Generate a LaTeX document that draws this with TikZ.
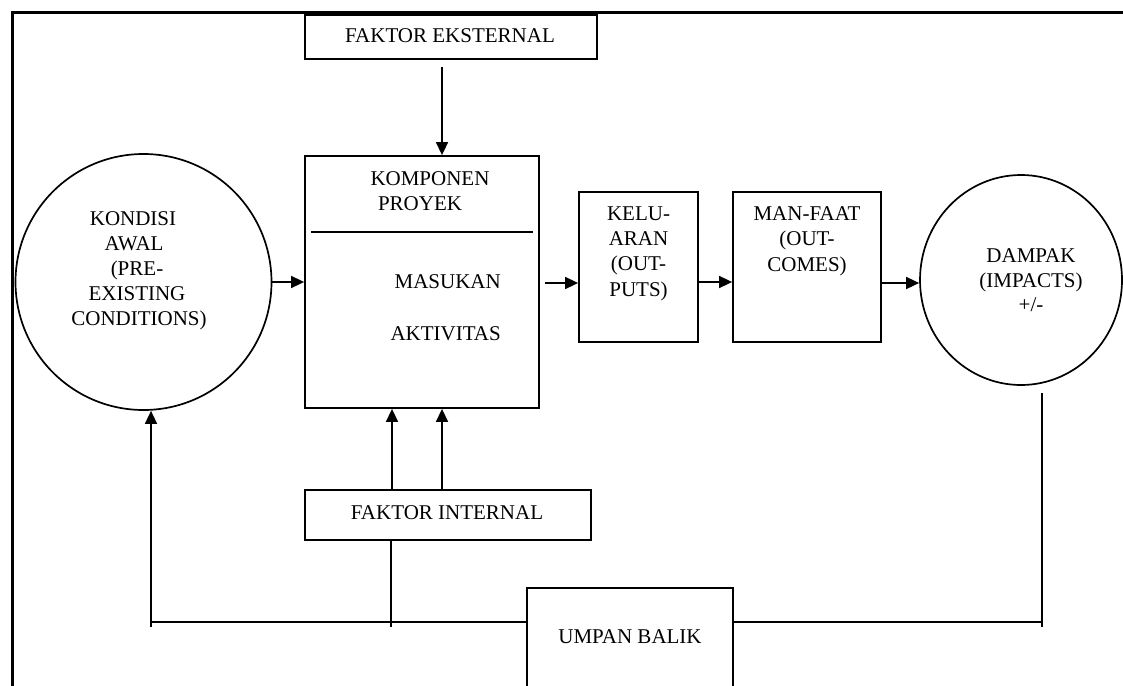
\documentclass[tikz,border=0pt]{standalone}
\usepackage{fontspec}
\setmainfont{Liberation Serif}
\usetikzlibrary{arrows.meta,shapes.geometric,calc}
\begin{document}
\begin{tikzpicture}[x=1pt,y=-1pt,
  box/.style={draw,line width=1.8pt,rectangle,inner sep=0pt},
  rnd/.style={draw,line width=1.7pt,inner sep=0pt},
  txt/.style={anchor=base,inner sep=0pt,font=\fontsize{21}{25}\selectfont},
  arr/.style={line width=1.6pt,-{Triangle[length=13pt,width=12pt]}},
  ln/.style={line width=1.6pt},
  fb/.style={line width=2.6pt}]
\useasboundingbox (0,0) rectangle (1123,685);
% frame
\draw[line width=3.8pt] (12.5,700) -- (12.5,12.5) -- (1140,12.5);
% shapes
\node[box,minimum width=292pt,minimum height=44pt] (ext) at (451,37) {};
\node[box,minimum width=234pt,minimum height=252pt] (komp) at (422,282) {};
\node[box,minimum width=119pt,minimum height=150pt] (kel) at (638.5,267) {};
\node[box,minimum width=148pt,minimum height=150pt] (man) at (807,267) {};
\node[rnd,circle,minimum size=256pt] (kon) at (143.5,282) {};
\node[rnd,ellipse,minimum width=202pt,minimum height=210pt] (dam) at (1021,280) {};
\node[box,minimum width=286pt,minimum height=50pt] (int) at (448,515) {};
\node[box,minimum width=206pt,minimum height=130pt] (ump) at (630,653) {};
% divider inside komponen
\draw[ln] (311,232) -- (533,232);
% texts
\node[txt] (t-ext) at (450,42) {FAKTOR EKSTERNAL};
\node[txt] (t-k1) at (430,185) {KOMPONEN};
\node[txt] (t-k2) at (420,210) {PROYEK};
\node[txt,anchor=base east] (t-k3) at (501,288) {MASUKAN};
\node[txt,anchor=base east] (t-k4) at (501,340) {AKTIVITAS};
\node[txt] (t-c1) at (133,225) {KONDISI};
\node[txt] (t-c2) at (134,250) {AWAL};
\node[txt] (t-c3) at (137,275) {(PRE-};
\node[txt] (t-c4) at (137,300) {EXISTING};
\node[txt] (t-c5) at (139,325) {CONDITIONS)};
\node[txt] (t-o1) at (638.5,220) {KELU-};
\node[txt] (t-o2) at (638.5,245) {ARAN};
\node[txt] (t-o3) at (638.5,270) {(OUT-};
\node[txt] (t-o4) at (638.5,296) {PUTS)};
\node[txt] (t-m1) at (807,220) {MAN-FAAT};
\node[txt] (t-m2) at (807,245) {(OUT-};
\node[txt] (t-m3) at (807,271) {COMES)};
\node[txt] (t-d1) at (1031,262) {DAMPAK};
\node[txt] (t-d2) at (1031,287) {(IMPACTS)};
\node[txt] (t-d3) at (1031,311) {+/-};
\node[txt] (t-int) at (447,519) {FAKTOR INTERNAL};
\node[txt] (t-ump) at (630,643) {UMPAN BALIK};
% connectors
\coordinate (e1) at (442,67);
\draw[arr] (e1) -- (e1 |- komp.north);
\draw[arr] (kon.east) -- (komp.west);
\coordinate (a2) at (545,283);
\draw[arr] (a2) -- (a2 -| kel.west);
\draw[arr] ([yshift=-15pt]kel.east) -- ([yshift=-15pt]man.west);
\draw[arr] ([yshift=-16pt]man.east) -- ([yshift=-16pt]man.east -| dam.west);
\draw[arr] ([xshift=-56pt]int.north) -- ([xshift=-56pt]int.north |- komp.south);
\draw[arr] ([xshift=-6pt]int.north) -- ([xshift=-6pt]int.north |- komp.south);
% feedback
\coordinate (fbL) at (151,622);
\coordinate (fbR) at (1042,622);
\coordinate (dR) at (1042,393);
\draw[fb] (fbL) -- (fbL -| ump.west);
\draw[fb] (fbR) -- (fbR -| ump.east);
\draw[arr] ([yshift=-5pt]fbL) -- (fbL |- kon.south);
\draw[ln] (dR) -- ([yshift=-5pt]fbR);
\draw[ln] ([xshift=-57pt]int.south) -- ([xshift=-57pt,yshift=-5pt]int.south |- fbL);
\end{tikzpicture}
\end{document}
